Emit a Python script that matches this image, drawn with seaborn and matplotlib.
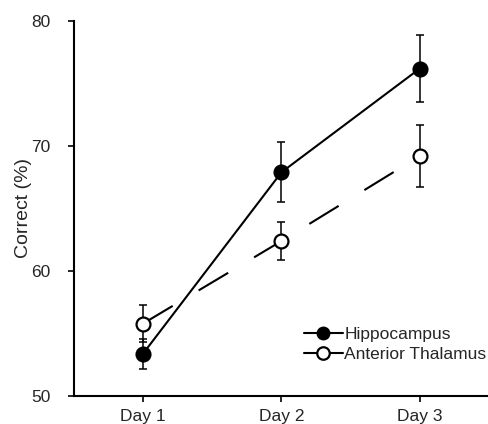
import matplotlib
matplotlib.use("Agg")
import matplotlib.pyplot as plt
import seaborn as sns
import pandas as pd
from matplotlib.lines import Line2D

days = ["Day 1", "Day 2", "Day 3"]
hippo = [53.4, 67.9, 76.2]
hippo_err = [1.2, 2.4, 2.7]
thal = [55.8, 62.4, 69.2]
thal_err = [1.5, 1.5, 2.45]

sns.set_theme(style="ticks")
plt.rcParams["font.family"] = ["Liberation Sans", "DejaVu Sans"]

fig = plt.figure(figsize=(4.89, 4.24), dpi=100)
ax = fig.add_axes([74/489, 1-396/424, (489-74)/489, (396-21)/424])

x = list(range(len(days)))
df_h = pd.DataFrame({"x": x, "y": hippo})
df_t = pd.DataFrame({"x": x, "y": thal})

sns.lineplot(data=df_t, x="x", y="y", ax=ax, color="black", lw=1.5,
             linestyle=(0, (16.5, 14.5)), zorder=2)
sns.lineplot(data=df_h, x="x", y="y", ax=ax, color="black", lw=1.5, zorder=2)

ax.errorbar(x, thal, yerr=thal_err, fmt="none", ecolor="black", elinewidth=1.1,
            capsize=3, capthick=1.1, zorder=3)
ax.errorbar(x, hippo, yerr=hippo_err, fmt="none", ecolor="black", elinewidth=1.1,
            capsize=3, capthick=1.1, zorder=3)
ax.plot(x, thal, "o", ms=10, mfc="white", mec="black", mew=1.6, zorder=4)
ax.plot(x, hippo, "o", ms=10, mfc="black", mec="black", mew=1.6, zorder=4)

ax.set_xlim(-0.5, 2.5)
ax.set_ylim(50, 80)
ax.set_yticks([50, 60, 70, 80])
ax.set_xticks(x)
ax.set_xticklabels(days)
ax.set_xlabel("")
ax.set_ylabel("Correct (%)", fontsize=14, labelpad=-1)
ax.tick_params(axis="y", labelsize=12.5, length=4, width=1.2, direction="out",
               color="black", pad=13)
ax.tick_params(axis="x", labelsize=12.5, length=4, width=1.2, direction="out",
               color="black", pad=5)
for s in ["top", "right"]:
    ax.spines[s].set_visible(False)
for s in ["left", "bottom"]:
    ax.spines[s].set_linewidth(1.5)
    ax.spines[s].set_color("black")

handles = [
    Line2D([], [], color="black", lw=1.5, marker="o", ms=9, mfc="black", mec="black"),
    Line2D([], [], color="black", lw=1.5, marker="o", ms=9, mfc="white", mec="black", mew=1.6),
]
ax.legend(handles, ["Hippocampus", "Anterior Thalamus"], frameon=False,
          loc="upper left", bbox_to_anchor=(0.555, 0.184), borderaxespad=0,
          borderpad=0, fontsize=12.5, handlelength=2.2, handletextpad=0.1,
          labelspacing=0.25)

fig.savefig("out.png", dpi=100)
